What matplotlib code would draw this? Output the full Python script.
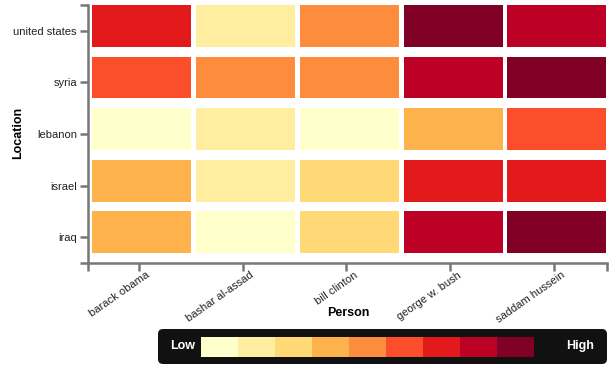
import matplotlib
matplotlib.use("Agg")
import matplotlib.pyplot as plt
import matplotlib.transforms as mtransforms
from matplotlib.colors import ListedColormap, BoundaryNorm
from matplotlib.patches import FancyBboxPatch

plt.rcParams['font.family'] = ['Liberation Sans', 'DejaVu Sans']

# Data: quantized intensity level (0 = Low .. 8 = High)
locations = ["united states", "syria", "lebanon", "israel", "iraq"]
people = ["barack obama", "bashar al-assad", "bill clinton", "george w. bush", "saddam hussein"]
levels = [
    [6, 1, 4, 8, 7],  # united states
    [5, 4, 4, 7, 8],  # syria
    [0, 1, 0, 3, 5],  # lebanon
    [3, 1, 2, 6, 6],  # israel
    [3, 0, 2, 7, 8],  # iraq
]
palette = ["#ffffcc", "#ffeda0", "#fed976", "#feb24c", "#fd8d3c",
           "#fc4e2a", "#e31a1c", "#bd0026", "#800026"]

cmap = ListedColormap(palette)
norm = BoundaryNorm(range(len(palette) + 1), cmap.N)

W, H = 612, 370
fig = plt.figure(figsize=(W / 100, H / 100), dpi=100)
ax = fig.add_axes([88 / W, 1 - 263 / H, (607 - 88) / W, (263 - 5) / H])

for r, row in enumerate(levels):
    for c, v in enumerate(row):
        ax.bar(c + 0.04, 0.81, width=0.955, bottom=r, align='edge',
               color=cmap(norm(v)), linewidth=0)

ax.set_xlim(0, len(people))
ax.set_ylim(len(locations), 0)

grey = "#777777"
for s in ["top", "right"]:
    ax.spines[s].set_visible(False)
for s in ["left", "bottom"]:
    ax.spines[s].set_color(grey)
    ax.spines[s].set_linewidth(1.8)

ax.set_xticks([i + 0.49 for i in range(len(people))])
ax.set_xticks([0, len(people)], minor=True)
ax.set_yticks([i + 0.5 for i in range(len(locations))])
ax.set_yticks([0, len(locations)], minor=True)
ax.tick_params(which="both", length=6, width=1.8, color=grey, labelsize=8,
               labelcolor="#222222", pad=2)

ax.set_yticklabels(locations)
ax.set_xticklabels(people, rotation=35, ha="right", rotation_mode="anchor")
offset = mtransforms.ScaledTranslation(0.07, 0.04, fig.dpi_scale_trans)
for lbl in ax.get_xticklabels():
    lbl.set_transform(lbl.get_transform() + offset)

fig.text(18 / W, 1 - 133 / H, "Location", rotation=90, ha="center", va="center",
         fontsize=9, fontweight="bold")
fig.text(348 / W, 1 - 313 / H, "Person", ha="center", va="center",
         fontsize=9, fontweight="bold")

# Legend (axes sized in pixels so the box can be drawn in pixel units)
lw, lh = 607 - 158, 35
leg = fig.add_axes([158 / W, 1 - 364 / H, lw / W, lh / H])
leg.axis("off")
leg.set_xlim(0, lw)
leg.set_ylim(0, lh)
leg.add_patch(FancyBboxPatch((0, 0), lw, lh, boxstyle="round,pad=0,rounding_size=5",
                             facecolor="#111111", edgecolor="none", clip_on=False))
sw = fig.add_axes([201 / W, 1 - 357 / H, (534 - 201) / W, 20 / H])
sw.axis("off")
for i, col in enumerate(palette):
    sw.bar(i, 1, width=1, align="edge", color=col, linewidth=0)
sw.set_xlim(0, len(palette))
sw.set_ylim(0, 1)
fig.text(183 / W, 1 - 346 / H, "Low", color="white", fontweight="bold",
         fontsize=9, ha="center", va="center")
fig.text(580 / W, 1 - 346 / H, "High", color="white", fontweight="bold",
         fontsize=9, ha="center", va="center")

fig.savefig("out.png", dpi=100)
